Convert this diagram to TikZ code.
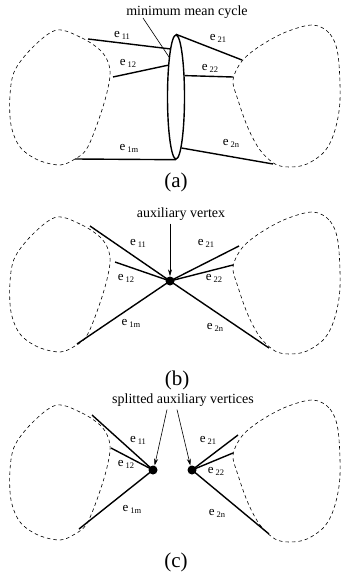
\documentclass[tikz,border=0pt]{standalone}
\usepackage{fontspec}
\setmainfont{Liberation Serif}
\usetikzlibrary{arrows.meta,shapes.geometric}
\tikzset{
    line cap=round,
    blob/.style={draw, line width=0.6pt, dash pattern=on 3.5pt off 3pt},
    link/.style={draw, line width=1.4pt},
    elabel/.style={font=\fontsize{13}{13}\selectfont, inner sep=0pt},
    note/.style={font=\fontsize{14}{14}\selectfont, inner sep=0pt},
    pointer/.style={-{Stealth[length=7pt,width=4pt]}, line width=0.6pt},
    panel/.style={font=\fontsize{21}{21}\selectfont, inner sep=0pt},
    auxv/.style={circle, fill, inner sep=0pt, minimum size=9pt}
}
\newcommand{\elab}[1]{e\hspace{2pt}\raisebox{-2pt}{\fontsize{8.5}{8.5}\selectfont #1}}

\begin{document}
\begin{tikzpicture}[x=1pt, y=-1pt]
\useasboundingbox (0,0) rectangle (340,577);

% Dashed components, same outline in every panel
\foreach \dy in {0,187,375}{
    \begin{scope}[shift={(0,\dy)}]
        \draw[blob] plot[smooth cycle, tension=0.55] coordinates {
            (57,30) (82,38) (100,50) (108,62) (110,76) (105,100) (95,130)
            (86,150) (75,159) (60,165) (38,160) (20,147) (11,125) (10,95)
            (15,70) (34,46)};
        \draw[blob] plot[smooth cycle, tension=0.55] coordinates {
            (313,25) (330,34) (338,55) (340,100) (335,130) (325,151)
            (307,164) (290,167) (275,164) (260,150) (248,128) (238,100)
            (233,80) (242,61) (260,46) (286,32)};
    \end{scope}
}

% (a) minimum mean cycle
\node[ellipse, draw, line width=1.4pt, minimum width=17pt,
      minimum height=124pt, inner sep=0pt] (cyc) at (176,97) {};
\node[note] (mmc) at (187,12) {minimum mean cycle};
\coordinate (mmcfoot) at (143,18);
\draw[line width=0.6pt] (mmcfoot) -- (cyc.100);

\coordinate (a11) at (88,39);
\coordinate (a12) at (113,77);
\coordinate (a1m) at (75,159);
\coordinate (a21) at (242,60);
\coordinate (a22) at (233,77);
\coordinate (a2n) at (273,164);
\draw[link] (a11) -- (cyc.97);
\draw[link] (a12) -- (cyc.104);
\draw[link] (a1m) -- (cyc.south);
\draw[link] (cyc.north) -- (a21);
\draw[link] (cyc.68) -- (a22);
\draw[link] (cyc.-84) -- (a2n);

\node[elabel] at (122,35) {\elab{11}};
\node[elabel] at (128,63) {\elab{12}};
\node[elabel] at (129,148) {\elab{1m}};
\node[elabel] at (218,38) {\elab{21}};
\node[elabel] at (210,68) {\elab{22}};
\node[elabel] at (231,143) {\elab{2n}};

\node[panel] (pa) at (176,182) {(a)};

% (b) one auxiliary vertex
\node[auxv] (v) at (170,281) {};
\node[note] (auxlab) at (181,214) {auxiliary vertex};
\draw[pointer] ([yshift=-3pt]auxlab.south -| v) -- (v.north);

\coordinate (b11) at (90,226);
\coordinate (b12) at (115,262);
\coordinate (b1m) at (77,344);
\coordinate (b21) at (239,246);
\coordinate (b22) at (233,265);
\coordinate (b2n) at (269,348);
\foreach \e in {b11,b12,b1m,b21,b22,b2n}
    \draw[link] (v.center) -- (\e);

\node[elabel] at (138,243) {\elab{11}};
\node[elabel] at (126,278) {\elab{12}};
\node[elabel] at (131,323) {\elab{1m}};
\node[elabel] at (206,243) {\elab{21}};
\node[elabel] at (214,278) {\elab{22}};
\node[elabel] at (215,327) {\elab{2n}};

\node[panel] (pb) at (177,380) {(b)};

% (c) auxiliary vertex split in two
\node[auxv] (vl) at (153,470) {};
\node[auxv] (vr) at (192,470) {};
\node[note] (splitlab) at (183,400) {splitted auxiliary vertices};
\draw[pointer] ([xshift=-16pt,yshift=-3pt]splitlab.south) -- (vl.70);
\draw[pointer] ([xshift=-6pt,yshift=-3pt]splitlab.south) -- (vr.110);

\coordinate (c11) at (92,415);
\coordinate (c12) at (111,448);
\coordinate (c1m) at (79,529);
\coordinate (c21) at (238,435);
\coordinate (c22) at (233,453);
\coordinate (c2n) at (269,534);
\foreach \e in {c11,c12,c1m}
    \draw[link] (vl.center) -- (\e);
\foreach \e in {c21,c22,c2n}
    \draw[link] (vr.center) -- (\e);

\node[elabel] at (138,440) {\elab{11}};
\node[elabel] at (126,464) {\elab{12}};
\node[elabel] at (132,509) {\elab{1m}};
\node[elabel] at (208,440) {\elab{21}};
\node[elabel] at (216,471) {\elab{22}};
\node[elabel] at (217,513) {\elab{2n}};

\node[panel] (pc) at (176,562) {(c)};
\end{tikzpicture}
\end{document}
